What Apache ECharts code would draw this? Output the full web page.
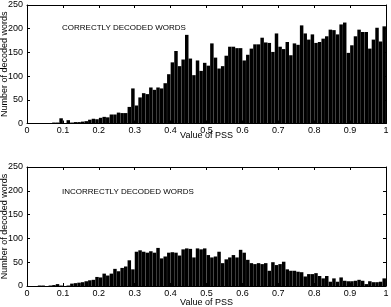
<!DOCTYPE html>
<html>
<head>
<meta charset="utf-8">
<style>
  html, body { margin: 0; padding: 0; background: #fff; }
  #chart { width: 391px; height: 307px; }
</style>
<script src="https://cdn.jsdelivr.net/npm/echarts@6/dist/echarts.min.js"></script>
</head>
<body>
<div id="chart"></div>
<script>
  // 100 bins of width 0.01 over PSS 0..1
  var binCount = 100;
  var correctCounts = [
    0, 0, 1, 1, 1, 0, 1, 2, 2, 11,
    1, 7, 2, 3, 3, 4, 5, 8, 10, 9,
    12, 14, 13, 19, 19, 23, 22, 22, 35, 74,
    38, 55, 64, 62, 76, 71, 76, 74, 85, 104,
    129, 153, 121, 135, 187, 137, 102, 133, 111, 128,
    122, 169, 139, 116, 121, 143, 162, 162, 159, 159,
    133, 145, 158, 167, 167, 181, 171, 170, 151, 190,
    162, 157, 172, 144, 169, 166, 207, 190, 177, 188,
    170, 172, 179, 184, 198, 197, 188, 209, 213, 149,
    165, 184, 198, 193, 193, 158, 177, 202, 173, 205
  ];
  var incorrectCounts = [
    0, 0, 0, 1, 1, 0, 1, 2, 4, 1,
    0, 1, 5, 6, 7, 8, 10, 12, 13, 19,
    18, 26, 22, 26, 36, 31, 38, 41, 54, 35,
    72, 75, 72, 70, 73, 70, 80, 58, 62, 70,
    71, 70, 64, 77, 79, 78, 60, 79, 77, 79,
    65, 60, 62, 72, 48, 56, 60, 65, 60, 76,
    70, 55, 48, 46, 48, 46, 48, 32, 50, 44,
    46, 51, 35, 32, 32, 30, 29, 20, 25, 25,
    27, 21, 16, 21, 9, 16, 9, 18, 11, 10,
    10, 11, 13, 11, 4, 10, 8, 8, 9, 16
  ];
  var yTicks = [0, 50, 100, 150, 200, 250];
  var panelTitles = ['CORRECTLY DECODED WORDS', 'INCORRECTLY DECODED WORDS'];

  var bins = [];
  for (var i = 0; i < binCount; i++) bins.push((i / binCount).toFixed(2));

  var font = 'Liberation Sans, Arial, sans-serif';
  var black = '#000';

  function binAxis(grid) {
    return { type: 'category', gridIndex: grid, data: bins, show: false, boundaryGap: true };
  }
  function pssAxis(grid, withLabels) {
    return {
      type: 'value', gridIndex: grid, min: 0, max: 1, interval: 0.1,
      position: withLabels ? 'bottom' : 'top',
      name: withLabels ? 'Value of PSS' : '',
      nameLocation: 'middle',
      nameGap: grid === 0 ? 8 : 12,
      nameMoveOverlap: false,
      nameTextStyle: { fontFamily: font, fontSize: 9, color: black },
      axisLine: { onZero: false, lineStyle: { color: black, width: 1 } },
      axisTick: { inside: true, length: 3, lineStyle: { color: black } },
      axisLabel: { show: withLabels, fontFamily: font, fontSize: 9, color: black, margin: 3 },
      splitLine: { show: false }
    };
  }
  function countAxis(grid, withLabels) {
    return {
      type: 'value', gridIndex: grid, min: yTicks[0], max: yTicks[yTicks.length - 1], interval: 50,
      position: withLabels ? 'left' : 'right',
      name: withLabels ? 'Number of decoded words' : '',
      nameLocation: 'middle',
      nameGap: 17.5,
      nameMoveOverlap: false,
      nameTextStyle: { fontFamily: font, fontSize: 9, color: black },
      axisLine: { show: true, onZero: false, lineStyle: { color: black, width: 1 } },
      axisTick: { show: true, inside: true, length: 3, lineStyle: { color: black } },
      axisLabel: { show: withLabels, fontFamily: font, fontSize: 9, color: black, margin: 4 },
      splitLine: { show: false }
    };
  }

  var chart = echarts.init(document.getElementById('chart'));
  var titleStyle = { fontFamily: font, fontSize: 8, fontWeight: 'normal', color: black };
  var option = {
    backgroundColor: '#fff',
    animation: false,
    title: [
      { text: panelTitles[0], left: 62, top: 24, padding: 0, textStyle: titleStyle },
      { text: panelTitles[1], left: 62, top: 188, padding: 0, textStyle: titleStyle }
    ],
    grid: [
      { left: 27, right: 5, top: 5, height: 118.5, outerBoundsMode: 'none', containLabel: false },
      { left: 27, right: 5, top: 167, height: 119, outerBoundsMode: 'none', containLabel: false }
    ],
    xAxis: [
      binAxis(0), pssAxis(0, true), pssAxis(0, false),
      binAxis(1), pssAxis(1, true), pssAxis(1, false)
    ],
    yAxis: [
      countAxis(0, true), countAxis(0, false),
      countAxis(1, true), countAxis(1, false)
    ],
    series: [
      {
        type: 'bar', xAxisIndex: 0, yAxisIndex: 0, data: correctCounts,
        barCategoryGap: '3%', itemStyle: { color: black }
      },
      {
        type: 'bar', xAxisIndex: 3, yAxisIndex: 2, data: incorrectCounts,
        barCategoryGap: '3%', itemStyle: { color: black }
      }
    ]
  };
  chart.setOption(option);
</script>
</body>
</html>
